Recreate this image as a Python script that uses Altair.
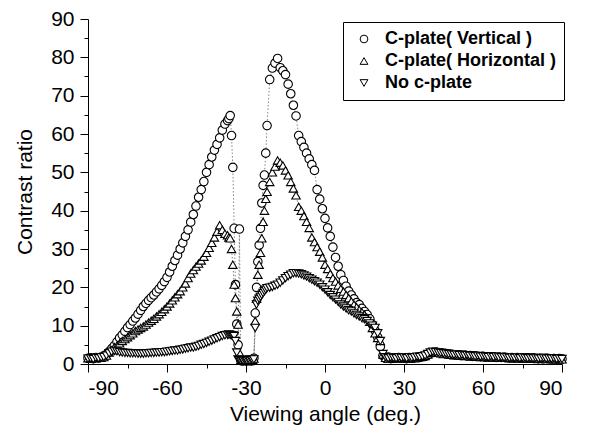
import altair as alt
import pandas as pd

# ---- sampling angles (deg.) ----
ANGLE_LEFT = list(range(-90, -36))                 # -90 .. -37
ANGLE_MID = [a / 2 for a in range(-73, -43)]       # -36.5 .. -22 (half steps)
ANGLE_RIGHT = list(range(-21, 91))                 # -21 .. 90

SERIES = ["C-plate( Vertical )", "C-plate( Horizontal )", "No c-plate"]

# ---- C-plate (Vertical) ----
VERT_LEFT = [1.5, 1.6, 1.4, 1.7, 1.6, 1.8, 2.0, 2.5, 3.2, 4.0,
             4.8, 5.8, 6.8, 7.6, 8.5, 9.5, 10.3, 11.2, 12.0, 13.0,
             14.0, 15.0, 15.8, 16.6, 17.3, 18.0, 18.8, 19.6, 20.5, 21.5,
             22.6, 24.0, 25.5, 27.0, 28.4, 30.0, 31.6, 33.3, 35.0, 37.0,
             39.0, 41.2, 43.5, 45.5, 47.6, 50.0, 52.0, 54.0, 55.8, 57.3,
             59.0, 61.0, 62.6, 63.5]
VERT_MID = [64.0, 64.8, 59.6, 51.3, 35.4, 20.7, 10.4, 5.0, 35.2, 1.0,
            0.8, 0.9, 1.0, 0.8, 1.0, 0.9, 1.0, 0.8, 1.0, 1.5,
            13.3, 20.0, 26.7, 31.0, 35.4, 42.0, 46.6, 49.3, 55.0, 62.2]
VERT_RIGHT = [74.2, 77.2, 78.5, 79.7, 77.3, 76.5, 75.5, 73.0, 70.5, 67.5,
              64.7, 59.6, 58.0, 56.5, 55.0, 53.5, 52.0, 50.5, 45.5, 43.0,
              40.5, 38.0, 35.5, 33.3, 30.5, 27.8, 25.5, 23.3, 21.8, 20.3,
              19.0, 18.0, 17.0, 16.0, 15.5, 14.5, 13.7, 12.9, 11.8, 10.3,
              8.8, 7.0, 4.5, 2.2, 1.5, 1.8, 1.4, 1.6, 1.5, 1.7,
              1.5, 1.6, 1.4, 1.7, 1.5, 1.6, 1.8, 1.7, 1.9, 2.0,
              2.4, 2.8, 3.0, 3.1, 3.0, 2.9, 2.8, 2.7, 2.6, 2.5,
              2.4, 2.3, 2.4, 2.2, 2.3, 2.1, 2.2, 2.0, 2.1, 2.0,
              1.9, 2.0, 1.8, 1.9, 1.8, 1.9, 1.7, 1.8, 1.7, 1.8,
              1.7, 1.6, 1.7, 1.6, 1.7, 1.5, 1.6, 1.5, 1.6, 1.5,
              1.6, 1.5, 1.4, 1.5, 1.4, 1.5, 1.4, 1.3, 1.4, 1.3,
              1.4, 1.3]

# ---- C-plate (Horizontal) ----
HORZ_LEFT = [1.5, 1.4, 1.6, 1.5, 1.7, 1.6, 1.8, 2.2, 3.0, 3.6,
             4.4, 4.8, 5.4, 6.0, 6.5, 7.0, 7.5, 8.0, 8.6, 9.0,
             9.4, 9.8, 10.3, 10.8, 11.3, 11.8, 12.4, 13.0, 13.6, 14.3,
             15.0, 15.8, 16.6, 17.4, 18.2, 19.0, 20.0, 21.0, 22.4, 23.6,
             24.5, 25.4, 26.2, 27.0, 28.0, 29.0, 30.3, 31.6, 33.0, 34.5,
             36.2, 35.0, 34.0, 33.6]
HORZ_MID = [33.0, 32.8, 30.0, 25.9, 20.7, 17.2, 13.7, 10.3, 3.0, 1.0,
            0.9, 1.0, 0.8, 1.0, 0.9, 1.0, 0.8, 1.0, 1.1, 1.4,
            11.2, 17.0, 23.3, 25.9, 29.0, 32.8, 37.1, 40.0, 43.1, 44.9]
HORZ_RIGHT = [47.5, 50.0, 51.5, 53.1, 52.5, 51.8, 50.5, 49.2, 47.5, 45.8,
              44.0, 41.0, 40.0, 38.6, 37.1, 35.5, 33.0, 31.8, 30.5, 29.3,
              27.8, 25.9, 24.8, 23.5, 22.4, 21.5, 20.5, 19.6, 18.9, 18.0,
              17.2, 16.3, 15.5, 14.8, 14.1, 13.5, 12.9, 12.0, 11.0, 9.4,
              8.0, 6.8, 6.0, 2.5, 1.6, 1.4, 1.7, 1.5, 1.6, 1.4,
              1.6, 1.5, 1.7, 1.4, 1.6, 1.5, 1.7, 1.8, 1.9, 2.1,
              2.5, 2.9, 3.2, 3.0, 2.9, 2.8, 2.6, 2.7, 2.5, 2.4,
              2.3, 2.4, 2.2, 2.3, 2.1, 2.2, 2.0, 2.1, 1.9, 2.0,
              1.8, 1.9, 1.8, 1.7, 1.9, 1.7, 1.8, 1.6, 1.7, 1.6,
              1.7, 1.5, 1.6, 1.5, 1.6, 1.4, 1.6, 1.5, 1.4, 1.5,
              1.4, 1.5, 1.3, 1.4, 1.5, 1.3, 1.4, 1.3, 1.4, 1.2,
              1.3, 1.2]

# ---- No c-plate ----
NONE_LEFT = [1.4, 1.5, 1.3, 1.6, 1.5, 1.7, 1.8, 2.2, 2.8, 3.2,
             3.4, 3.3, 3.1, 3.0, 2.9, 2.9, 2.8, 2.8, 2.8, 2.7,
             2.7, 2.7, 2.8, 2.8, 2.9, 2.9, 3.0, 3.0, 3.1, 3.1,
             3.2, 3.3, 3.4, 3.5, 3.5, 3.7, 3.8, 4.0, 4.1, 4.3,
             4.3, 4.5, 4.7, 5.0, 5.2, 5.5, 5.8, 6.1, 6.4, 6.7,
             7.0, 7.3, 7.5, 7.6]
NONE_MID = [7.7, 7.6, 7.5, 7.4, 7.3, 6.0, 3.0, 1.2, 1.0, 0.9,
            1.0, 0.8, 1.0, 0.9, 0.8, 1.0, 0.9, 1.1, 1.0, 1.2,
            9.4, 15.5, 16.5, 17.0, 17.5, 18.0, 18.5, 19.0, 19.4, 19.8]
NONE_RIGHT = [19.9, 20.1, 20.4, 20.7, 21.2, 21.8, 22.4, 22.9, 23.3, 23.7,
              23.7, 23.6, 23.4, 23.1, 22.8, 22.4, 22.0, 21.6, 21.2, 20.7,
              20.0, 19.4, 18.7, 18.0, 17.4, 16.8, 16.2, 15.5, 15.0, 14.5,
              14.0, 13.7, 13.2, 12.8, 12.4, 12.0, 11.7, 11.2, 10.6, 10.0,
              9.4, 8.0, 6.0, 2.6, 1.8, 1.5, 1.7, 1.6, 1.5, 1.8,
              1.6, 1.7, 1.5, 1.8, 1.6, 1.7, 1.9, 1.8, 2.0, 2.2,
              2.6, 3.0, 3.2, 3.1, 3.0, 2.9, 2.8, 2.7, 2.6, 2.5,
              2.4, 2.5, 2.3, 2.4, 2.2, 2.3, 2.1, 2.2, 2.0, 2.1,
              1.9, 2.0, 1.9, 1.8, 2.0, 1.8, 1.9, 1.7, 1.8, 1.7,
              1.8, 1.6, 1.7, 1.6, 1.7, 1.5, 1.7, 1.6, 1.5, 1.6,
              1.5, 1.6, 1.4, 1.5, 1.6, 1.4, 1.5, 1.4, 1.5, 1.3,
              1.4, 1.3]

ANGLES = ANGLE_LEFT + ANGLE_MID + ANGLE_RIGHT
VALUES = {
    SERIES[0]: VERT_LEFT + VERT_MID + VERT_RIGHT,
    SERIES[1]: HORZ_LEFT + HORZ_MID + HORZ_RIGHT,
    SERIES[2]: NONE_LEFT + NONE_MID + NONE_RIGHT,
}

rows = []
for s in SERIES:
    vals = VALUES[s]
    assert len(vals) == len(ANGLES), (s, len(vals), len(ANGLES))
    for a, v in zip(ANGLES, vals):
        rows.append({"angle": a, "value": v, "series": s})
df = pd.DataFrame(rows)

FONT = "Liberation Sans"

x_scale = alt.Scale(domain=[-90, 90], nice=False, zero=False)
y_scale = alt.Scale(domain=[0, 90], nice=False)

x_axis = alt.Axis(
    values=list(range(-90, 91, 15)),
    labelExpr="datum.value % 30 === 0 ? '' + datum.value : ''",
    tickSize={"condition": {"test": "datum.value % 30 === 0", "value": 8}, "value": 4},
    title="Viewing angle (deg.)",
    grid=False,
    labelOverlap=False,
    labelPadding=5,
    titlePadding=5,
)
y_axis = alt.Axis(
    values=list(range(0, 91, 5)),
    labelExpr="datum.value % 10 === 0 ? '' + datum.value : ''",
    tickSize={"condition": {"test": "datum.value % 10 === 0", "value": 8}, "value": 4},
    title="Contrast ratio",
    grid=False,
    labelOverlap=False,
    labelPadding=6,
    titlePadding=15,
)

legend = alt.Legend(
    title=None, orient="none", legendX=255, legendY=3,
    fillColor="white", strokeColor="black", padding=8,
    symbolOffset=4, labelOffset=12, rowPadding=4,
    symbolFillColor="white", symbolStrokeColor="black",
    symbolStrokeWidth=1, symbolSize=60,
    labelFont=FONT, labelFontSize=18, labelFontWeight="bold",
    labelColor="black", labelLimit=260,
)

base = alt.Chart(df).encode(
    x=alt.X("angle:Q", scale=x_scale, axis=x_axis),
    y=alt.Y("value:Q", scale=y_scale, axis=y_axis),
)

lines = base.mark_line(
    strokeDash=[1.5, 2], color="#777777", strokeWidth=0.9
).encode(
    detail="series:N",
)

points = base.mark_point(
    filled=False, fill="white", strokeWidth=1.1,
    size=72, opacity=1, fillOpacity=1
).encode(
    shape=alt.Shape(
        "series:N",
        scale=alt.Scale(domain=SERIES, range=["circle", "triangle-up", "triangle-down"]),
        legend=legend,
    ),
    stroke=alt.Stroke(
        "series:N",
        scale=alt.Scale(domain=SERIES, range=["black", "black", "black"]),
        legend=legend,
    ),
)

chart = (
    alt.layer(lines, points)
    .properties(
        width=474, height=345,
        autosize=alt.AutoSizeParams(type="none"),
        padding={"left": 80, "top": 11, "right": 19, "bottom": 66},
        background="white",
    )
    .configure_view(stroke=None)
    .configure_axis(
        labelFont=FONT, titleFont=FONT, labelFontSize=21, titleFontSize=21,
        labelColor="black", titleColor="black", titleFontWeight="normal",
        domainColor="black", tickColor="black", domainWidth=1, tickWidth=1,
        labelOverlap=False,
    )
)

chart.save("out.html", embed_options={"renderer": "svg", "actions": False})
